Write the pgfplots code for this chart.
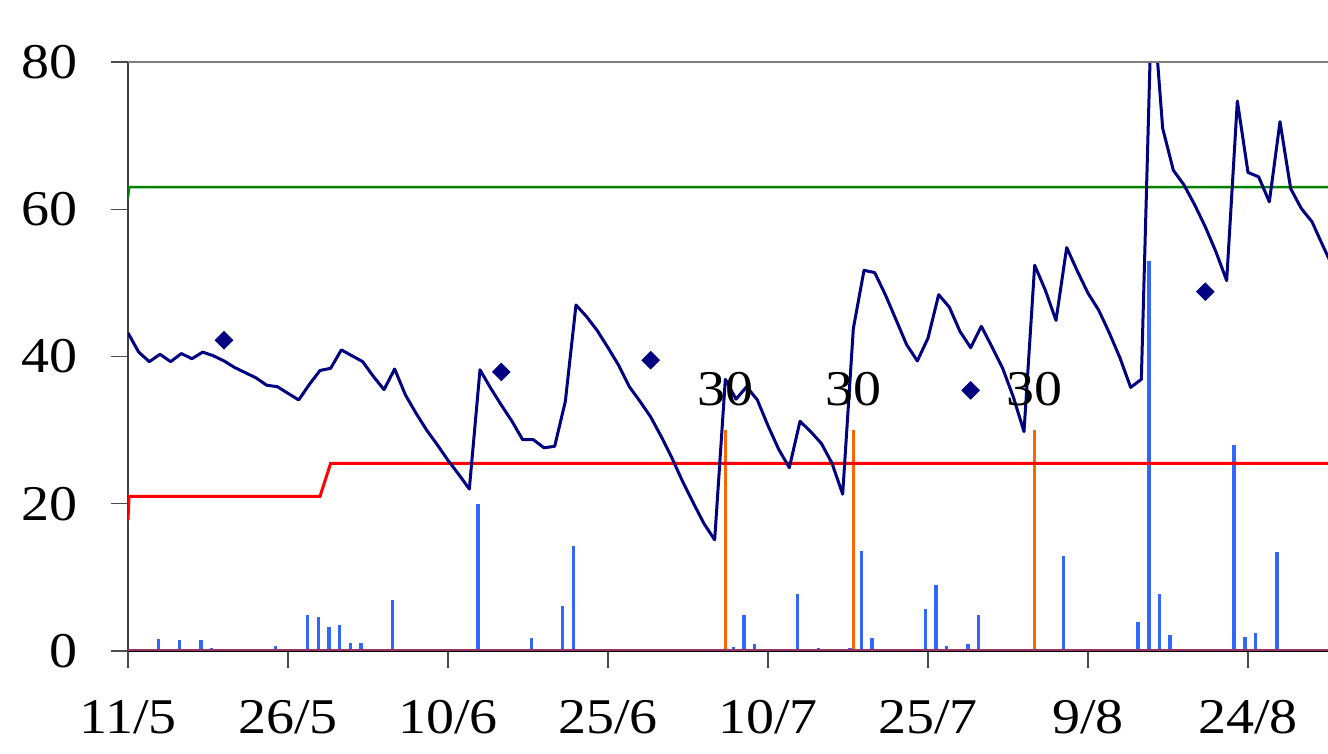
\documentclass[border=0pt]{standalone}
\usepackage{fontspec}
\setmainfont[FakeStretch=1.12]{Liberation Serif}
\usepackage{pgfplots}
\pgfplotsset{compat=1.18}
\definecolor{navyline}{HTML}{000080}
\definecolor{barblue}{HTML}{3366FF}
\definecolor{orangebar}{HTML}{FF6600}
\definecolor{maroonbase}{HTML}{993366}
\definecolor{greenline}{HTML}{008000}
\definecolor{redline}{HTML}{FF0000}

\pgfplotstableread{
x y
2.85 1.6
4.85 1.5
6.85 1.5
7.85 0.4
13.85 0.7
16.85 4.9
17.85 4.6
18.85 3.2
19.85 3.5
20.85 1.1
21.85 1.1
24.8 6.9
32.8 19.9
37.8 1.7
40.75 6.1
41.75 14.3
56.75 0.6
57.75 4.9
58.75 0.9
62.75 7.8
64.75 0.4
67.7 0.4
68.75 13.6
69.75 1.8
74.75 5.7
75.75 8.9
76.75 0.7
78.75 1.0
79.75 4.9
87.7 12.9
94.7 4.0
95.7 53.0
96.7 7.8
97.7 2.2
98.7 0.3
103.7 28.0
104.7 1.9
105.7 2.4
107.7 13.4
}\rainbars

\pgfplotstableread{
x y
56.06 30
67.97 30
84.94 30
}\orangebars

\pgfplotstableread{
x y
0 43.2
1 40.6
2 39.3
3 40.3
4 39.3
5 40.4
6 39.7
7 40.6
8 40.1
9 39.4
10 38.5
11 37.8
12 37.1
13 36.1
14 35.9
15 35.0
16 34.1
17 36.2
18 38.1
19 38.4
20 40.9
21 40.1
22 39.3
23 37.3
24 35.5
25 38.3
26 34.8
27 32.3
28 30.0
29 28.0
30 25.9
31 24.0
32 22.0
33 38.2
34 35.7
35 33.4
36 31.2
37 28.7
38 28.7
39 27.6
40 27.8
41 33.9
42 47.0
43 45.4
44 43.5
45 41.2
46 38.8
47 35.9
48 33.9
49 31.8
50 29.1
51 26.2
52 23.0
53 20.1
54 17.3
55 15.1
56 36.9
57 34.2
58 35.9
59 34.1
60 30.6
61 27.4
62 24.9
63 31.2
64 29.8
65 28.2
66 25.5
67 21.3
68 43.8
69 51.7
70 51.4
71 48.4
72 45.0
73 41.6
74 39.4
75 42.5
76 48.4
77 46.7
78 43.4
79 41.2
80 44.1
81 41.3
82 38.4
83 34.5
84 29.8
85 52.4
86 49.0
87 44.9
88 54.8
89 51.6
90 48.6
91 46.3
92 43.2
93 39.8
94 35.8
95 36.9
96 90.0
97 71.0
98 65.3
99 63.3
100 60.6
101 57.6
102 54.2
103 50.3
104 74.7
105 65.0
106 64.4
107 61.0
108 71.9
109 62.8
110 60.1
111 58.3
112 55.1
113 52.0
}\mainline

\pgfplotstableread{
x y
9 42.2
35 37.9
49 39.5
79 35.4
101 48.8
}\diamonds

\begin{document}
\begin{tikzpicture}
\begin{axis}[
  scale only axis, width=600pt, height=294.5pt,
  xmin=0, xmax=112.5, ymin=0, ymax=80,
  axis x line*=bottom, axis y line*=left,
  x axis line style={black, line width=0.6pt},
  y axis line style={black!75, line width=0.9pt},
  tick align=outside, major tick length=8.5pt,
  tick style={black!70, line width=0.7pt},
  xtick={0,15,...,105},
  xticklabels={11/5,26/5,10/6,25/6,10/7,25/7,9/8,24/8},
  ytick={0,20,...,80},
  tick label style={font=\fontsize{25}{30}\selectfont},
  /pgf/number format/assume math mode=true,
  yticklabel style={inner sep=0pt, xshift=-16.5pt},
  xticklabel style={inner sep=0pt, yshift=-16pt},
]
\addplot[ycomb, draw=barblue, line width=1.7pt, no marks] table {\rainbars};
\addplot[ycomb, draw=orangebar, line width=1.5pt, no marks,
  nodes near coords,
  every node near coord/.append style={font=\fontsize{25}{30}\selectfont, text=black, anchor=south, inner sep=0pt, yshift=11.5pt}] table {\orangebars};
\addplot[redline, line width=1.5pt, no marks] coordinates {(0,17.8) (0.1,21) (18,21) (19,25.5) (112.5,25.5)};
\addplot[greenline, line width=1.2pt, no marks] coordinates {(0,61.5) (0.1,63) (112.5,63)};
\addplot[navyline, line width=1.5pt, no marks, line join=round] table {\mainline};
\addplot[only marks, mark=square*, mark size=3.1pt, mark options={rotate=45, fill=navyline, draw=navyline}] table {\diamonds};
\addplot[maroonbase, line width=1.8pt, no marks] coordinates {(0,0) (112.5,0)};
\coordinate (sw) at (rel axis cs:0,0);
\coordinate (nw) at (rel axis cs:0,1);
\coordinate (ne) at (rel axis cs:1,1);
\end{axis}
\draw[black!50, line width=1.4pt] (nw) -- (ne);
\pgfresetboundingbox
\path ([shift={(-64pt,-51.5pt)}]sw) rectangle ([shift={(0pt,31pt)}]ne);
\end{tikzpicture}
\end{document}
